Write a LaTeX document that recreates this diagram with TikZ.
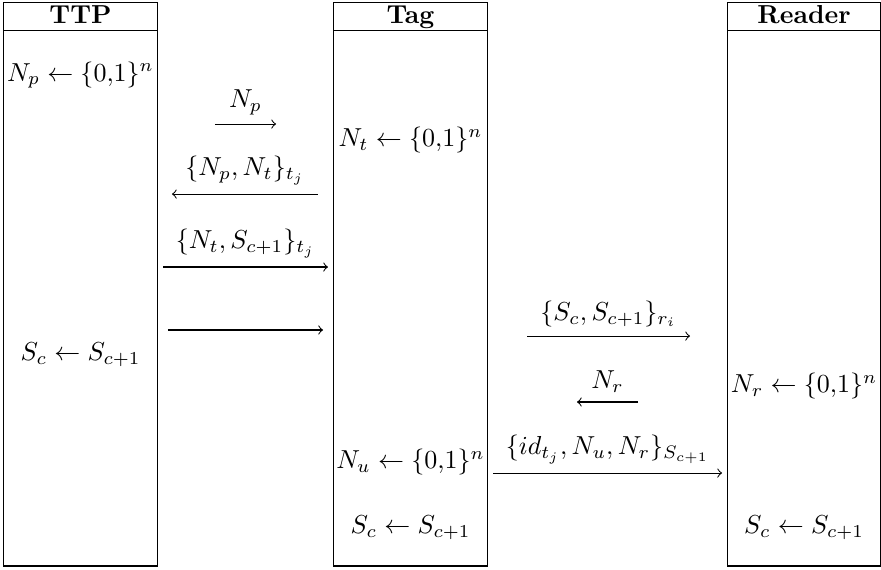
\documentclass[tikz,border=0pt]{standalone}
\usetikzlibrary{positioning}
\begin{document}
\begin{tikzpicture}[
    head/.style={draw, minimum width=2.07cm, minimum height=0.39cm, inner sep=0pt, outer sep=0pt, text height=1.6ex, text depth=0.35ex, font=\bfseries},
    life/.style={draw, minimum width=2.07cm, minimum height=7.23cm, inner sep=0pt, outer sep=0pt},
    msg/.style={->}]
      \useasboundingbox (0,0) rectangle (11.905,-7.689);
      % parties
      \node[head] (ttp) at (1.088,-0.223) {TTP};
      \node[head] (tag) at (5.547,-0.223) {Tag};
      \node[head] (reader) at (10.865,-0.223) {Reader};
      \node[life, below=0pt of ttp] (ttpl) {};
      \node[life, below=0pt of tag] (tagl) {};
      \node[life, below=0pt of reader] (readerl) {};
      % local steps
      \node (np) at (1.088,-1.014) {$N_p \leftarrow \{0{,}1\}^n$};
      \node (nt) at (5.547,-1.892) {$N_t \leftarrow \{0{,}1\}^n$};
      \node (upd1) at (1.088,-4.797) {$S_c \leftarrow S_{c+1}$};
      \node (nr) at (10.865,-5.216) {$N_r \leftarrow \{0{,}1\}^n$};
      \node (nu) at (5.547,-6.243) {$N_u \leftarrow \{0{,}1\}^n$};
      \node (upd2) at (5.547,-7.135) {$S_c \leftarrow S_{c+1}$};
      \node (upd3) at (10.865,-7.135) {$S_c \leftarrow S_{c+1}$};
      % messages
      \coordinate (m1a) at (2.905,-1.676);  \coordinate (m1b) at (3.730,-1.676);
      \coordinate (m2a) at (4.297,-2.622);  \coordinate (m2b) at (2.324,-2.622);
      \coordinate (m3a) at (2.203,-3.608);  \coordinate (m3b) at (4.432,-3.608);
      \coordinate (m4a) at (2.270,-4.459);  \coordinate (m4b) at (4.365,-4.459);
      \coordinate (m5a) at (7.122,-4.541);  \coordinate (m5b) at (9.324,-4.541);
      \coordinate (m6a) at (8.622,-5.432);  \coordinate (m6b) at (7.797,-5.432);
      \coordinate (m7a) at (6.662,-6.392);  \coordinate (m7b) at (9.757,-6.392);
      \draw[msg] (m1a) -- node[above] (l1) {$N_p$} (m1b);
      \draw[msg] (m2a) -- node[above] (l2) {$\{N_p, N_t\}_{t_j}$} (m2b);
      \draw[msg] (m3a) -- node[above] (l3) {$\{N_t, S_{c+1}\}_{t_j}$} (m3b);
      \draw[msg] (m4a) -- (m4b);
      \draw[msg] (m5a) -- node[above] (l5) {$\{S_c, S_{c+1}\}_{r_i}$} (m5b);
      \draw[msg] (m6a) -- node[above] (l6) {$N_r$} (m6b);
      \draw[msg] (m7a) -- node[above] (l7) {$\{id_{t_j}, N_u, N_r\}_{S_{c+1}}$} (m7b);
    \end{tikzpicture}
\end{document}
